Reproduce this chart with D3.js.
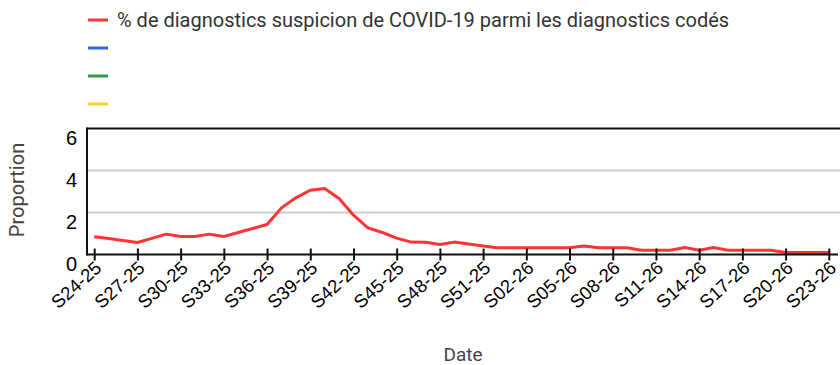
<!DOCTYPE html>
<html>
<head>
<meta charset="utf-8">
<script src="https://cdn.jsdelivr.net/npm/d3@7"></script>
<style>
  html, body { margin: 0; padding: 0; background: #fff; }
  svg { display: block; }
</style>
</head>
<body>
<svg id="chart" width="840" height="365"></svg>
<script>
// Weekly share of "suspicion de COVID-19" among coded diagnostics
const weeks = [
  "S24-25","S25-25","S26-25","S27-25","S28-25","S29-25","S30-25","S31-25","S32-25","S33-25",
  "S34-25","S35-25","S36-25","S37-25","S38-25","S39-25","S40-25","S41-25","S42-25","S43-25",
  "S44-25","S45-25","S46-25","S47-25","S48-25","S49-25","S50-25","S51-25","S52-25",
  "S01-26","S02-26","S03-26","S04-26","S05-26","S06-26","S07-26","S08-26","S09-26","S10-26",
  "S11-26","S12-26","S13-26","S14-26","S15-26","S16-26","S17-26","S18-26","S19-26","S20-26",
  "S21-26","S22-26","S23-26"
];
const covidShare = [
  0.85, 0.76, 0.67, 0.57, 0.77, 0.97, 0.86, 0.86, 0.97, 0.86,
  1.05, 1.24, 1.43, 2.22, 2.70, 3.06, 3.14, 2.67, 1.87, 1.27,
  1.05, 0.78, 0.59, 0.58, 0.48, 0.59, 0.50, 0.40, 0.32,
  0.32, 0.32, 0.32, 0.32, 0.32, 0.41, 0.32, 0.32, 0.32, 0.20,
  0.20, 0.20, 0.33, 0.20, 0.33, 0.20, 0.20, 0.20, 0.20, 0.10,
  0.10, 0.10, 0.10
];
const tickWeeks = weeks.filter((d, i) => i % 3 === 0);
const yTicks = [0, 2, 4, 6];
const legendLabels = ["% de diagnostics suspicion de COVID-19 parmi les diagnostics codés", "", "", ""];
const legendColors = ["#ff3333", "#3366ee", "#339944", "#ffcc33"];

const svg = d3.select("#chart");
const plotLeft = 87, plotRight = 836, plotTop = 128.5, plotBottom = 254.5;

const x = d3.scalePoint().domain(weeks).range([plotLeft, plotRight]).padding(0.5);
const y = d3.scaleLinear().domain([0, 6]).range([plotBottom, plotTop]);

// Gridlines
svg.append("g")
  .selectAll("line")
  .data(yTicks.filter(t => t > 0 && t < 6))
  .join("line")
  .attr("x1", plotLeft).attr("x2", 840)
  .attr("y1", d => y(d)).attr("y2", d => y(d))
  .attr("stroke", "#cccccc").attr("stroke-width", 2);

// Top frame line
svg.append("line")
  .attr("x1", plotLeft).attr("x2", 840)
  .attr("y1", y(6)).attr("y2", y(6))
  .attr("stroke", "#111").attr("stroke-width", 2);

// Y tick labels
svg.append("g")
  .selectAll("text")
  .data(yTicks)
  .join("text")
  .attr("x", 77)
  .attr("y", d => y(d) + 16)
  .attr("text-anchor", "end")
  .attr("font-family", "Arial, 'Liberation Sans', sans-serif")
  .attr("font-size", 20)
  .attr("fill", "#000")
  .text(d => d);

// Series line
const line = d3.line()
  .x((d, i) => x(weeks[i]))
  .y(d => y(d));

svg.append("path")
  .datum(covidShare)
  .attr("d", line)
  .attr("fill", "none")
  .attr("stroke", legendColors[0])
  .attr("stroke-width", 3)
  .attr("stroke-linejoin", "round");

// X axis
const xAxis = d3.axisBottom(x)
  .tickValues(tickWeeks)
  .tickSize(0)
  .tickFormat(d => d);
const gx = svg.append("g").attr("transform", `translate(0,${plotBottom})`).call(xAxis);
gx.select(".domain").remove();
gx.selectAll(".tick text").remove();
gx.selectAll(".tick")
  .append("line")
  .attr("y1", -6).attr("y2", 6)
  .attr("stroke", "#111").attr("stroke-width", 2);
gx.selectAll(".tick")
  .append("text")
  .attr("text-anchor", "end")
  .attr("transform", "translate(8,15) rotate(-42)")
  .attr("font-family", "Arial, 'Liberation Sans', sans-serif")
  .attr("font-size", 18.5)
  .attr("fill", "#000")
  .text(d => d);

svg.append("line")
  .attr("x1", plotLeft).attr("x2", 838)
  .attr("y1", plotBottom).attr("y2", plotBottom)
  .attr("stroke", "#111").attr("stroke-width", 2);

// Y axis line
svg.append("line")
  .attr("x1", plotLeft).attr("x2", plotLeft)
  .attr("y1", plotTop - 1).attr("y2", plotBottom + 1)
  .attr("stroke", "#111").attr("stroke-width", 2);

// Axis titles
svg.append("text")
  .attr("transform", "translate(24,190) rotate(-90)")
  .attr("text-anchor", "middle")
  .attr("font-family", "Roboto, Arial, sans-serif")
  .attr("font-size", 20)
  .attr("fill", "#444")
  .text("Proportion");

svg.append("text")
  .attr("x", 463).attr("y", 361)
  .attr("text-anchor", "middle")
  .attr("font-family", "Roboto, Arial, sans-serif")
  .attr("font-size", 19)
  .attr("fill", "#444")
  .text("Date");

// Legend
const lg = svg.append("g").selectAll("g")
  .data(legendLabels)
  .join("g")
  .attr("transform", (d, i) => `translate(88,${20 + i * 28})`);
lg.append("line")
  .attr("x1", 0).attr("x2", 20)
  .attr("stroke", (d, i) => legendColors[i])
  .attr("stroke-width", 3);
lg.append("text")
  .attr("x", 29).attr("y", 7)
  .attr("font-family", "Roboto, Arial, sans-serif")
  .attr("font-size", 20)
  .attr("fill", "#333")
  .text(d => d);
</script>
</body>
</html>
